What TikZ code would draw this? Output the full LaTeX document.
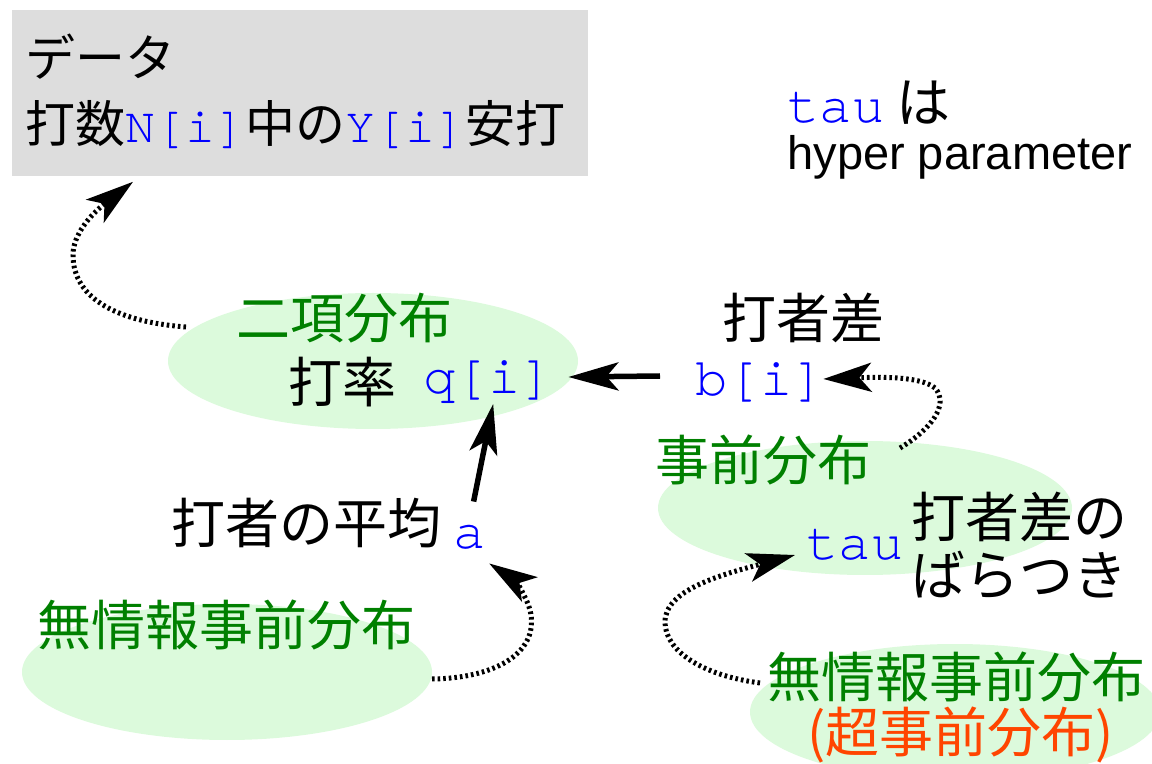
\documentclass[tikz,border=0pt]{standalone}
\usepackage{fontspec}
\setmainfont{Noto Sans CJK JP}
\setmonofont{TeX Gyre Cursor}
\newfontfamily\lsans{Liberation Sans}
\usetikzlibrary{arrows.meta,calc,shapes.geometric}
\definecolor{boxgray}{HTML}{DDDDDD}
\definecolor{lgreen}{HTML}{DCFADC}
\definecolor{dgreen}{HTML}{008000}
\definecolor{cblue}{HTML}{0000FF}
\definecolor{hred}{HTML}{FF4500}
\newcommand{\cd}[1]{{\ttfamily\color{cblue}#1}}
\begin{document}
\begin{tikzpicture}[x=0.5pt,y=-0.5pt,
  lbl/.style={inner sep=0pt, anchor=west, font=\fontsize{27}{31}\selectfont},
  boxlbl/.style={inner sep=0pt, anchor=west, font=\fontsize{25}{30}\selectfont},
  grn/.style={lbl, text=dgreen},
  code/.style={lbl, text=cblue, font=\fontsize{27}{31}\selectfont\ttfamily},
  blob/.style={ellipse, fill=lgreen, inner sep=0pt},
  arr/.style={line width=2.75pt, -{Stealth[length=25pt,width=14pt,inset=6pt]}},
  darr/.style={line width=2.5pt, dash pattern=on 1.3pt off 1.5pt, -{Stealth[length=24pt,width=14.5pt,inset=6pt]}},
]
\useasboundingbox (0,0) rectangle (1152,764);
\node (box) [fill=boxgray, anchor=north west, minimum width=288pt, minimum height=83pt, inner sep=0pt] at (12,10) {};
\node (e1) [blob, minimum width=205pt, minimum height=68pt] at (373,361) {};
\node (e2) [blob, minimum width=207pt, minimum height=67pt] at (865,508) {};
\node (e3) [blob, minimum width=205pt, minimum height=68pt] at (227,672) {};
\node (e4) [blob, minimum width=205pt, minimum height=68pt] at (955,712) {};

\node (d1) [boxlbl] at (25,57) {データ};
\node (d2) [boxlbl] at (25,125) {打数\cd{N[i]}中の\cd{Y[i]}安打};
\node (tauh) [lbl] at (787,103) {\cd{tau} は};
\node (hyp) [lbl, font=\fontsize{23.5}{28}\lsans] at (787,157) {hyper parameter};
\node (binom) [grn] at (236,318) {二項分布};
\node (rate) [lbl] at (288,382) {打率};
\node (q) [code] at (423,382) {q[i]};
\node (diff) [lbl] at (722,318) {打者差};
\node (b) [code] at (695,382) {b[i]};
\node (prior) [grn] at (655,460) {事前分布};
\node (tau) [code] at (806,545) {tau};
\node (sp1) [lbl] at (911,517) {打者差の};
\node (sp2) [lbl] at (911,575) {ばらつき};
\node (mean) [lbl] at (171,523) {打者の平均};
\node (a) [code] at (453,537) {a};
\node (ni1) [grn] at (37,625) {無情報事前分布};
\node (ni2) [grn] at (767,677) {無情報事前分布};
\node (hyper) [lbl, text=hred] at (807,735) {(超事前分布)};

\draw[arr] ($(b.west)+(-35,-6)$) -- ($(q.east)+(15,-5)$);
\draw[arr] ($(a.north)+(4,-23)$) -- ($(q.south)+(5,0)$);

\coordinate (s1) at (186,327);
\coordinate (s2) at (432,679);
\coordinate (s3) at (900,448);
\coordinate (s4) at (760,683);
\draw[darr] (s1) .. controls (120,322) and (73,300) .. (73,255) .. controls (73,235) and (90,215) .. ($(box.south west)+(121,5)$);
\draw[darr] (s2) .. controls (500,678) and (540,650) .. (530,610) .. controls (527,598) and (515,580) .. ($(a.south east)+(3,14)$);
\draw[darr] (s3) .. controls (930,430) and (950,405) .. (935,388) .. controls (920,376) and (880,377) .. ($(b.east)+(-2,-3)$);
\draw[darr] (s4) .. controls (700,675) and (665,650) .. (665,622) .. controls (665,590) and (720,575) .. ($(tau.west)+(-11,10)$);
\end{tikzpicture}
\end{document}
